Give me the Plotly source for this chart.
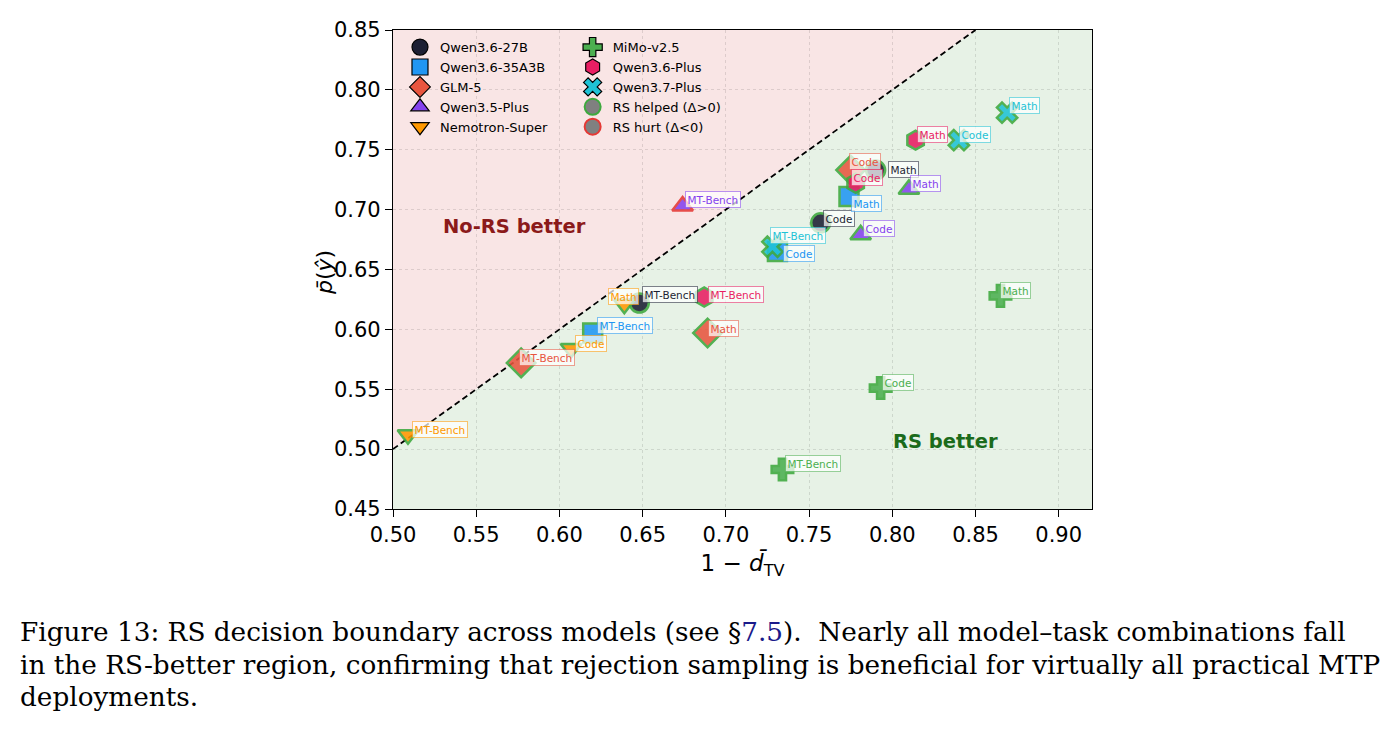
import plotly.graph_objects as go

# ---------------- data ----------------
models = ["Qwen3.6-27B", "Qwen3.6-35A3B", "GLM-5", "Qwen3.5-Plus", "Nemotron-Super",
          "MiMo-v2.5", "Qwen3.6-Plus", "Qwen3.7-Plus"]
tasks = ["MT-Bench", "Code", "Math"]

# 1 - d_TV per model, per task (MT-Bench, Code, Math)
one_minus_dtv = {
    "Qwen3.6-27B":    [0.648, 0.757, 0.790],
    "Qwen3.6-35A3B":  [0.620, 0.731, 0.774],
    "GLM-5":          [0.577, 0.775, 0.689],
    "Qwen3.5-Plus":   [0.674, 0.781, 0.810],
    "Nemotron-Super": [0.509, 0.607, 0.639],
    "MiMo-v2.5":      [0.734, 0.793, 0.865],
    "Qwen3.6-Plus":   [0.687, 0.778, 0.814],
    "Qwen3.7-Plus":   [0.728, 0.840, 0.869],
}
p_bar = {
    "Qwen3.6-27B":    [0.622, 0.689, 0.733],
    "Qwen3.6-35A3B":  [0.597, 0.665, 0.711],
    "GLM-5":          [0.572, 0.733, 0.597],
    "Qwen3.5-Plus":   [0.703, 0.679, 0.717],
    "Nemotron-Super": [0.512, 0.584, 0.621],
    "MiMo-v2.5":      [0.483, 0.551, 0.628],
    "Qwen3.6-Plus":   [0.627, 0.722, 0.758],
    "Qwen3.7-Plus":   [0.669, 0.758, 0.781],
}
# RS helped (True) / hurt (False)
rs_helped = {
    "Qwen3.6-27B":    [True, True, True],
    "Qwen3.6-35A3B":  [True, True, True],
    "GLM-5":          [True, True, True],
    "Qwen3.5-Plus":   [False, True, True],
    "Nemotron-Super": [True, True, True],
    "MiMo-v2.5":      [True, True, True],
    "Qwen3.6-Plus":   [True, True, True],
    "Qwen3.7-Plus":   [True, True, True],
}

x_ticks = [0.50, 0.55, 0.60, 0.65, 0.70, 0.75, 0.80, 0.85, 0.90]
y_ticks = [0.45, 0.50, 0.55, 0.60, 0.65, 0.70, 0.75, 0.80, 0.85]
x_range = [0.50, 0.92]
y_range = [0.45, 0.85]

# ---------------- styles ----------------
colors = {
    "Qwen3.6-27B": "#1c1f33",
    "Qwen3.6-35A3B": "#2196f3",
    "GLM-5": "#e8553f",
    "Qwen3.5-Plus": "#8542ee",
    "Nemotron-Super": "#ff9800",
    "MiMo-v2.5": "#4caf50",
    "Qwen3.6-Plus": "#e91e63",
    "Qwen3.7-Plus": "#1fc3d6",
}
symbols = {
    "Qwen3.6-27B": "circle",
    "Qwen3.6-35A3B": "square",
    "GLM-5": "diamond",
    "Qwen3.5-Plus": "triangle-up",
    "Nemotron-Super": "triangle-down",
    "MiMo-v2.5": "cross",
    "Qwen3.6-Plus": "hexagon",
    "Qwen3.7-Plus": "x",
}
sizes = {
    "circle": 19, "square": 19, "diamond": 22, "triangle-up": 18,
    "triangle-down": 18, "cross": 18, "hexagon": 19, "x": 18,
}
# label pixel offsets (xshift, yshift) per model / task, like the manual placement in the source
label_shift = {
    "Qwen3.6-27B":    [(3, 9), (2, 4), (12, 1)],
    "Qwen3.6-35A3B":  [(4, 7), (6, -2), (2, -7)],
    "GLM-5":          [(-2, 5.5), (-2, 9), (0, 4)],
    "Qwen3.5-Plus":   [(2, 7), (2, 6), (1, 6)],
    "Nemotron-Super": [(4, 5.5), (4, 5.5), (-16, 8)],
    "MiMo-v2.5":      [(3, 6), (1, 6), (0, 5)],
    "Qwen3.6-Plus":   [(4, 3), (-5, 6), (1, 5.5)],
    "Qwen3.7-Plus":   [(-2, 11), (0, 5.5), (2, 7)],
}
GREEN_EDGE = "#3ea93e"
RED_EDGE = "#e53935"

def rgba(hexc, a):
    h = hexc.lstrip("#")
    return "rgba(%d,%d,%d,%.2f)" % (int(h[0:2], 16), int(h[2:4], 16), int(h[4:6], 16), a)

fig = go.Figure()

# background regions
fig.add_shape(type="path", xref="x", yref="y",
              path="M 0.50 0.50 L 0.85 0.85 L 0.50 0.85 Z",
              fillcolor="#f9e5e5", line=dict(width=0), layer="below")
fig.add_shape(type="path", xref="x", yref="y",
              path="M 0.50 0.45 L 0.50 0.50 L 0.85 0.85 L 0.92 0.85 L 0.92 0.45 Z",
              fillcolor="#e7f2e6", line=dict(width=0), layer="below")

# diagonal boundary
fig.add_trace(go.Scatter(x=[0.50, 0.85], y=[0.50, 0.85], mode="lines",
                         line=dict(color="black", width=1.8, dash="6px,3.5px"),
                         showlegend=False, hoverinfo="skip"))

# data points
for m in models:
    edges = [GREEN_EDGE if h else RED_EDGE for h in rs_helped[m]]
    sym = symbols[m]
    fig.add_trace(go.Scatter(
        x=one_minus_dtv[m], y=p_bar[m], mode="markers", name=m,
        marker=dict(symbol=sym, size=sizes[sym], color=colors[m], opacity=0.88,
                    line=dict(color=edges, width=2.5)),
        text=tasks, showlegend=False,
    ))

# legend entries (dummy traces)
for i, m in enumerate(models):
    fig.add_trace(go.Scatter(
        x=[None], y=[None], mode="markers", name=m,
        legend="legend" if i < 5 else "legend2",
        marker=dict(symbol=symbols[m], size=16, color=colors[m],
                    line=dict(color="black", width=1.2)),
    ))
fig.add_trace(go.Scatter(x=[None], y=[None], mode="markers", name="RS helped (Δ>0)",
                         legend="legend2",
                         marker=dict(symbol="circle", size=16, color="grey",
                                     line=dict(color=GREEN_EDGE, width=2))))
fig.add_trace(go.Scatter(x=[None], y=[None], mode="markers", name="RS hurt (Δ<0)",
                         legend="legend2",
                         marker=dict(symbol="circle", size=16, color="grey",
                                     line=dict(color=RED_EDGE, width=2))))

# point labels
for m in models:
    for t, xv, yv, (dx, dy) in zip(tasks, one_minus_dtv[m], p_bar[m], label_shift[m]):
        fig.add_annotation(
            x=xv, y=yv, xref="x", yref="y", text=t, showarrow=False,
            xanchor="left", yanchor="middle", xshift=dx, yshift=dy,
            font=dict(family="DejaVu Sans", size=10.5, color=colors[m]),
            bgcolor="rgba(255,255,255,0.72)", bordercolor=rgba(colors[m], 0.55),
            borderwidth=1, borderpad=1.5,
        )

# region texts
fig.add_annotation(x=0.5729, y=0.6863, xref="x", yref="y", text="<b>No-RS better</b>",
                   showarrow=False, font=dict(family="DejaVu Sans", size=19.5, color="#8b1a1a"))
fig.add_annotation(x=0.8321, y=0.5060, xref="x", yref="y", text="<b>RS better</b>",
                   showarrow=False, font=dict(family="DejaVu Sans", size=19.5, color="#1b6b1b"))

# legend frame (rounded rectangle, paper coords of the plot area)
lx0, lx1, ly0, ly1, rr = 0.010, 0.486, 0.7745, 0.9875, 0.006
ry = rr * 699 / 479
fig.add_shape(type="path", xref="paper", yref="paper",
              path=(f"M {lx0+rr} {ly0} L {lx1-rr} {ly0} Q {lx1} {ly0} {lx1} {ly0+ry} "
                    f"L {lx1} {ly1-ry} Q {lx1} {ly1} {lx1-rr} {ly1} "
                    f"L {lx0+rr} {ly1} Q {lx0} {ly1} {lx0} {ly1-ry} "
                    f"L {lx0} {ly0+ry} Q {lx0} {ly0} {lx0+rr} {ly0} Z"),
              fillcolor="rgba(255,255,255,0.8)", line=dict(color="#cccccc", width=1),
              layer="between")

# y-axis title as rotated annotation
fig.add_annotation(x=(324 - 393) / 699, y=(509 - 273) / 479, xref="paper", yref="paper",
                   text="<i>p̄</i>(<i>ŷ</i>)", textangle=-90, showarrow=False,
                   xanchor="center", yanchor="middle",
                   font=dict(family="DejaVu Sans", size=22, color="black"))

# caption (paper coords are relative to the plot area: 393..1092 x, 30..509 y)
cap_font = dict(family="DejaVu Serif", size=26.3, color="black")
caption_lines = [
    "Figure 13: RS decision boundary across models (see §<span style='color:#1a1a8a'>7.5</span>).&nbsp; Nearly all model–task combinations fall",
    "in the RS-better region, confirming that rejection sampling is beneficial for virtually all practical MTP",
    "deployments.",
]
cap_y = [632, 665, 697]
for line, yy in zip(caption_lines, cap_y):
    fig.add_annotation(x=(18 - 393) / 699, y=(509 - yy) / 479, xref="paper", yref="paper",
                       xanchor="left", yanchor="middle", text=line, showarrow=False,
                       font=cap_font)

fig.update_layout(
    width=1392, height=731,
    margin=dict(l=393, r=300, t=30, b=222, autoexpand=False),
    paper_bgcolor="white", plot_bgcolor="white",
    font=dict(family="DejaVu Sans", color="black"),
    legend=dict(x=0.010, y=0.9955, xanchor="left", yanchor="top",
                bgcolor="rgba(0,0,0,0)", font=dict(size=13), tracegroupgap=0,
                itemsizing="trace"),
    legend2=dict(x=0.257, y=0.9955, xanchor="left", yanchor="top",
                 bgcolor="rgba(0,0,0,0)", font=dict(size=13), tracegroupgap=0,
                 itemsizing="trace"),
    xaxis=dict(range=x_range, tickvals=x_ticks, ticktext=["%.2f" % v for v in x_ticks],
               showgrid=True, gridcolor="rgba(0,0,0,0.11)", griddash="dot", gridwidth=1,
               zeroline=False, showline=True, linecolor="black", linewidth=1.3, mirror=True,
               ticks="outside", ticklen=7, tickwidth=1.3, tickcolor="black",
               tickfont=dict(size=21),
               title=dict(text="1 − <i>d̄</i><sub>TV</sub>", font=dict(size=23), standoff=8)),
    yaxis=dict(range=y_range, tickvals=y_ticks, ticktext=["%.2f" % v for v in y_ticks],
               showgrid=True, gridcolor="rgba(0,0,0,0.11)", griddash="dot", gridwidth=1,
               zeroline=False, showline=True, linecolor="black", linewidth=1.3, mirror=True,
               ticks="outside", ticklen=7, tickwidth=1.3, tickcolor="black",
               tickfont=dict(size=21)),
)

fig.write_html("out.html")
